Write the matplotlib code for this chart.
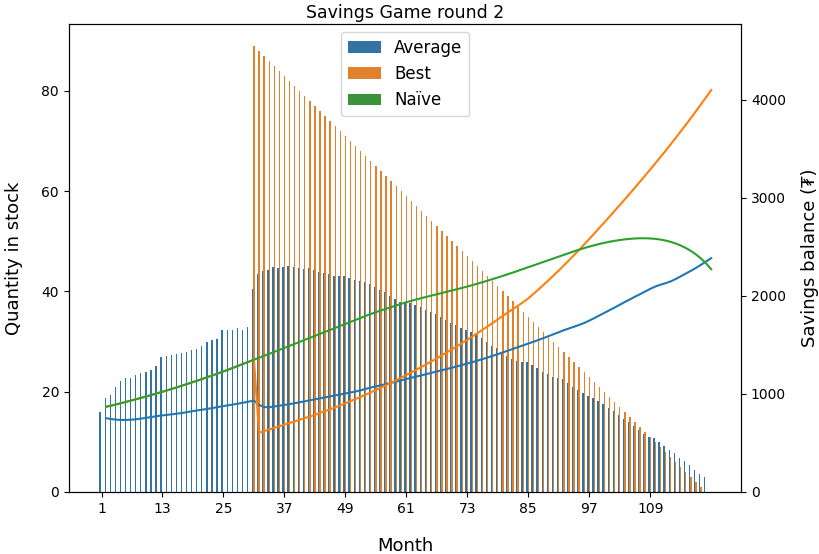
import matplotlib
matplotlib.use("Agg")
import matplotlib.pyplot as plt
import numpy as np

months = list(range(1, 121))

# quantity in stock (left axis), one value per month
avg_stock = [
    15.9, 18.7, 19.4, 21.0, 22.2, 22.7, 22.8, 23.4, 23.7, 24.0,
    24.4, 25.2, 26.9, 27.1, 27.3, 27.5, 27.7, 27.9, 28.3, 28.5,
    29.2, 30.0, 30.3, 30.5, 32.3, 32.3, 32.3, 32.7, 32.4, 33.0,
    40.5, 43.5, 44.1, 44.2, 44.8, 44.7, 44.8, 45.0, 44.8, 44.7,
    44.5, 44.6, 44.3, 43.9, 43.7, 43.5, 43.1, 43.0, 43.1, 42.6,
    42.3, 42.0, 41.8, 41.4, 40.9, 40.3, 39.8, 39.1, 38.5, 37.9,
    37.9, 37.7, 37.3, 36.9, 36.4, 35.9, 35.5, 35.0, 34.4, 33.8,
    33.3, 32.8, 32.4, 31.9, 31.3, 30.7, 30.0, 29.2, 28.7, 27.7,
    27.1, 26.5, 26.1, 26.0, 25.9, 25.3, 24.7, 24.0, 23.5, 23.0,
    22.8, 22.5, 21.8, 21.0, 20.4, 19.7, 19.2, 18.8, 18.2, 17.5,
    16.8, 16.2, 15.4, 14.5, 14.0, 13.2, 12.4, 11.5, 11.0, 10.7,
    10.0, 9.2, 8.4, 7.7, 6.8, 6.2, 5.3, 4.4, 3.5, 2.9,
]
best_stock = [0] * 30 + [
    89, 88, 87, 86, 85, 84, 83, 82, 81, 80,
    79, 78, 77, 76, 75, 74, 73, 72, 71, 70,
    69, 68, 67, 66, 65, 64, 63, 62, 61, 60,
    59, 58, 57, 56, 55, 54, 53, 52, 51, 50,
    49, 48, 47, 46, 45, 44, 43, 42, 41, 40,
    39, 38, 37, 36, 35, 34, 33, 32, 31, 30,
    29, 28, 27, 26, 25, 24, 23, 22, 21, 20,
    19, 18, 17, 16, 15, 14, 13, 12, 11, 10,
    9, 8, 7, 6, 5, 4, 3, 2, 1, 0,
]
naive_stock = [0] * 120

# savings balance (right axis)
naive_savings = [
    870, 882, 895, 908, 921, 935, 949, 963, 977, 992,
    1007, 1022, 1038, 1054, 1070, 1087, 1104, 1121, 1138, 1156,
    1174, 1192, 1211, 1230, 1249, 1269, 1289, 1309, 1329, 1349,
    1369, 1389, 1409, 1429, 1450, 1470, 1490, 1511, 1531, 1552,
    1572, 1592, 1613, 1633, 1653, 1674, 1694, 1714, 1735, 1755,
    1775, 1796, 1816, 1834, 1852, 1869, 1886, 1903, 1919, 1935,
    1950, 1964, 1978, 1991, 2004, 2017, 2030, 2043, 2056, 2069,
    2082, 2096, 2110, 2125, 2140, 2156, 2172, 2188, 2205, 2222,
    2239, 2257, 2275, 2293, 2311, 2329, 2347, 2365, 2383, 2401,
    2419, 2437, 2455, 2472, 2488, 2503, 2517, 2530, 2542, 2553,
    2562, 2570, 2577, 2582, 2586, 2588, 2588, 2586, 2582, 2575,
    2565, 2552, 2535, 2514, 2489, 2459, 2423, 2381, 2331, 2272,
]
best_savings = [
    870, 882, 895, 908, 921, 935, 949, 963, 977, 992,
    1007, 1022, 1038, 1054, 1070, 1087, 1104, 1121, 1138, 1156,
    1174, 1192, 1211, 1230, 1249, 1269, 1289, 1309, 1329, 1349,
    605, 621, 637, 654, 670, 687, 703, 720, 737, 754,
    770, 787, 806, 825, 844, 864, 884, 905, 926, 948,
    970, 993, 1016, 1040, 1064, 1089, 1114, 1140, 1166, 1193,
    1220, 1248, 1276, 1305, 1334, 1364, 1394, 1425, 1456, 1488,
    1520, 1553, 1586, 1620, 1655, 1690, 1725, 1761, 1797, 1832,
    1866, 1901, 1937, 1975, 2020, 2066, 2113, 2161, 2210, 2260,
    2311, 2363, 2416, 2470, 2525, 2581, 2638, 2695, 2752, 2810,
    2868, 2927, 2986, 3046, 3106, 3167, 3228, 3290, 3353, 3416,
    3480, 3545, 3611, 3678, 3746, 3815, 3885, 3956, 4028, 4101,
]
avg_savings = [
    752, 743, 737, 735, 735, 738, 743, 750, 758, 766,
    774, 781, 787, 793, 800, 807, 816, 825, 833, 841,
    849, 858, 867, 876, 885, 893, 902, 912, 922, 932,
    888, 866, 864, 872, 880, 888, 896, 905, 915, 925,
    935, 945, 955, 965, 975, 985, 995, 1005, 1015, 1025,
    1037, 1051, 1065, 1077, 1089, 1101, 1113, 1126, 1139, 1152,
    1165, 1178, 1190, 1203, 1216, 1229, 1242, 1255, 1268, 1282,
    1296, 1310, 1324, 1340, 1356, 1372, 1389, 1406, 1424, 1442,
    1460, 1478, 1496, 1514, 1532, 1551, 1570, 1590, 1610, 1630,
    1650, 1668, 1686, 1704, 1724, 1748, 1774, 1801, 1828, 1855,
    1882, 1910, 1938, 1965, 1992, 2018, 2045, 2072, 2096, 2114,
    2130, 2148, 2172, 2200, 2228, 2256, 2286, 2318, 2352, 2385,
]

series = ["Average", "Best", "Naïve"]
bar_colors = ["#3274a1", "#e1812c", "#3a923a"]
line_colors = ["#1f77b4", "#ff7f0e", "#2ca02c"]

fig = plt.figure(figsize=(8.19, 5.54), dpi=100)
ax = fig.add_axes([0.084, 0.112, 0.821, 0.845])
ax2 = ax.twinx()

# categorical bar positions (0..n-1), three hue slots per month
pos = np.arange(len(months))
w = 0.8 / 3
handles = []
for k, (name, vals) in enumerate(zip(series, [avg_stock, best_stock, naive_stock])):
    bc = ax.bar(pos + (k - 1) * w, vals, width=w, color=bar_colors[k],
                linewidth=0, label=name)
    handles.append(bc)

# savings lines use month numbers on the same x axis
for vals, c in zip([avg_savings, best_savings, naive_savings], line_colors):
    ax2.plot(months, vals, color=c, linewidth=1.5)

ax.set_xlim(-6.44, 125.9)
ax.set_ylim(0, 93.4)
ax2.set_ylim(0, 4776)
ax.set_xticks(pos[::12])
ax.set_xticklabels([str(m) for m in months[::12]])
ax.set_yticks([0, 20, 40, 60, 80])
ax2.set_yticks([0, 1000, 2000, 3000, 4000])

ax.set_xlabel("Month", fontsize=13, labelpad=15)
ax.set_ylabel("Quantity in stock", fontsize=13, labelpad=13)
ax2.set_ylabel("Savings balance (₮)", fontsize=13, labelpad=11)
ax.set_title("Savings Game round 2", fontsize=12.5, pad=4)

ax2.legend(handles, series, loc="upper center", fontsize=12)

fig.savefig("out.png", dpi=100)
